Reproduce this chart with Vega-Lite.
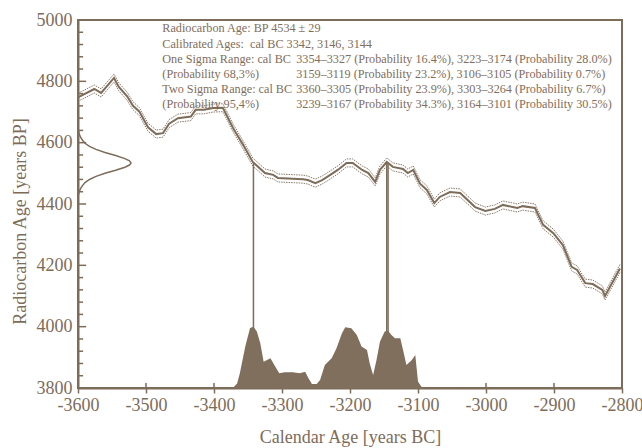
{
  "$schema": "https://vega.github.io/schema/vega-lite/v6.json",
  "width": 544,
  "height": 368,
  "autosize": {"type": "none"},
  "padding": {"left": 78, "top": 20, "right": 20, "bottom": 60},
  "background": "white",
  "config": {
    "view": {"stroke": "#7d6c5a", "strokeWidth": 2},
    "font": "Liberation Serif",
    "axis": {"grid": false, "domainColor": "#7d6c5a", "domainWidth": 2, "tickColor": "#7d6c5a", "tickWidth": 1.5, "labelColor": "#7d6c5a", "labelFontSize": 18, "labelFont": "Liberation Serif", "titleColor": "#7d6c5a", "titleFontSize": 18, "titleFontWeight": "normal", "titleFont": "Liberation Serif", "labelFlush": false, "labelOverlap": false}
  },
  "datasets": {
    "curve": [
      {"cal": -3600, "bp": 4748}, {"cal": -3576, "bp": 4775}, {"cal": -3566, "bp": 4762}, {"cal": -3547, "bp": 4811},
      {"cal": -3540, "bp": 4782}, {"cal": -3528, "bp": 4752}, {"cal": -3519, "bp": 4720}, {"cal": -3510, "bp": 4702},
      {"cal": -3497, "bp": 4650}, {"cal": -3485, "bp": 4628}, {"cal": -3475, "bp": 4631}, {"cal": -3466, "bp": 4662},
      {"cal": -3453, "bp": 4680}, {"cal": -3434, "bp": 4685}, {"cal": -3427, "bp": 4707}, {"cal": -3415, "bp": 4707},
      {"cal": -3401, "bp": 4713}, {"cal": -3387, "bp": 4714}, {"cal": -3372, "bp": 4648}, {"cal": -3357, "bp": 4592},
      {"cal": -3343, "bp": 4537}, {"cal": -3325, "bp": 4501}, {"cal": -3313, "bp": 4495}, {"cal": -3306, "bp": 4485},
      {"cal": -3269, "bp": 4481}, {"cal": -3262, "bp": 4478}, {"cal": -3251, "bp": 4468}, {"cal": -3241, "bp": 4478},
      {"cal": -3229, "bp": 4495}, {"cal": -3218, "bp": 4511}, {"cal": -3205, "bp": 4534}, {"cal": -3196, "bp": 4534},
      {"cal": -3182, "bp": 4511}, {"cal": -3173, "bp": 4501}, {"cal": -3163, "bp": 4472}, {"cal": -3156, "bp": 4511},
      {"cal": -3146, "bp": 4537}, {"cal": -3137, "bp": 4521}, {"cal": -3122, "bp": 4514}, {"cal": -3115, "bp": 4501},
      {"cal": -3107, "bp": 4511}, {"cal": -3097, "bp": 4466}, {"cal": -3087, "bp": 4446}, {"cal": -3076, "bp": 4403},
      {"cal": -3068, "bp": 4423}, {"cal": -3053, "bp": 4439}, {"cal": -3038, "bp": 4436}, {"cal": -3016, "bp": 4390},
      {"cal": -3001, "bp": 4377}, {"cal": -2987, "bp": 4384}, {"cal": -2975, "bp": 4397}, {"cal": -2954, "bp": 4387},
      {"cal": -2946, "bp": 4393}, {"cal": -2928, "bp": 4387}, {"cal": -2916, "bp": 4332}, {"cal": -2901, "bp": 4305},
      {"cal": -2887, "bp": 4266}, {"cal": -2874, "bp": 4195}, {"cal": -2866, "bp": 4185}, {"cal": -2854, "bp": 4142},
      {"cal": -2843, "bp": 4139}, {"cal": -2829, "bp": 4120}, {"cal": -2825, "bp": 4100}, {"cal": -2803, "bp": 4190}
    ],
    "gauss": [
      {"bp": 4430, "cal": -3599.4}, {"bp": 4440, "cal": -3598.2}, {"bp": 4450, "cal": -3596.3}, {"bp": 4460, "cal": -3593.4},
      {"bp": 4470, "cal": -3589.7}, {"bp": 4480, "cal": -3583.1}, {"bp": 4490, "cal": -3573.5}, {"bp": 4500, "cal": -3560.3},
      {"bp": 4510, "cal": -3544.7}, {"bp": 4520, "cal": -3531}, {"bp": 4527, "cal": -3524.3}, {"bp": 4534, "cal": -3522},
      {"bp": 4541, "cal": -3524.3}, {"bp": 4548, "cal": -3531}, {"bp": 4558, "cal": -3544.7}, {"bp": 4568, "cal": -3560.3},
      {"bp": 4578, "cal": -3573.5}, {"bp": 4588, "cal": -3583.1}, {"bp": 4598, "cal": -3589.7}, {"bp": 4608, "cal": -3593.4},
      {"bp": 4618, "cal": -3596.3}, {"bp": 4628, "cal": -3598.2}, {"bp": 4638, "cal": -3599.4}
    ],
    "dist": [
      {"cal": -3600, "bp": 3800}, {"cal": -3495, "bp": 3800}, {"cal": -3485, "bp": 3802}, {"cal": -3475, "bp": 3800},
      {"cal": -3380, "bp": 3800}, {"cal": -3372, "bp": 3801}, {"cal": -3366, "bp": 3815}, {"cal": -3362, "bp": 3848},
      {"cal": -3354, "bp": 3935}, {"cal": -3347, "bp": 3996}, {"cal": -3342, "bp": 4000}, {"cal": -3337, "bp": 3984},
      {"cal": -3332, "bp": 3947}, {"cal": -3327, "bp": 3886}, {"cal": -3322, "bp": 3891}, {"cal": -3317, "bp": 3897},
      {"cal": -3310, "bp": 3870}, {"cal": -3304, "bp": 3848}, {"cal": -3296, "bp": 3851}, {"cal": -3284, "bp": 3851},
      {"cal": -3274, "bp": 3848}, {"cal": -3266, "bp": 3853}, {"cal": -3261, "bp": 3832}, {"cal": -3256, "bp": 3813},
      {"cal": -3249, "bp": 3813}, {"cal": -3244, "bp": 3826}, {"cal": -3237, "bp": 3875}, {"cal": -3227, "bp": 3897},
      {"cal": -3220, "bp": 3929}, {"cal": -3212, "bp": 3978}, {"cal": -3207, "bp": 3998}, {"cal": -3198, "bp": 3995},
      {"cal": -3190, "bp": 3973}, {"cal": -3183, "bp": 3935}, {"cal": -3175, "bp": 3924}, {"cal": -3171, "bp": 3880},
      {"cal": -3166, "bp": 3842}, {"cal": -3161, "bp": 3891}, {"cal": -3156, "bp": 3951}, {"cal": -3149, "bp": 3984},
      {"cal": -3144, "bp": 3987}, {"cal": -3139, "bp": 3973}, {"cal": -3134, "bp": 3962}, {"cal": -3126, "bp": 3962},
      {"cal": -3122, "bp": 3924}, {"cal": -3117, "bp": 3875}, {"cal": -3109, "bp": 3891}, {"cal": -3104, "bp": 3908},
      {"cal": -3100, "bp": 3821}, {"cal": -3095, "bp": 3804}, {"cal": -3088, "bp": 3801}, {"cal": -3070, "bp": 3801},
      {"cal": -3053, "bp": 3803}, {"cal": -3040, "bp": 3802}, {"cal": -3025, "bp": 3800}, {"cal": -2800, "bp": 3800}
    ],
    "calages": [{"cal": -3342}, {"cal": -3146}, {"cal": -3144}],
    "xticks": [{"cal": -3500}, {"cal": -3400}, {"cal": -3300}, {"cal": -3200}, {"cal": -3100}, {"cal": -3000}, {"cal": -2900}],
    "ymajor": [{"bp": 4000}, {"bp": 4200}, {"bp": 4400}, {"bp": 4600}, {"bp": 4800}],
    "yminor": [
      {"bp": 3840}, {"bp": 3880}, {"bp": 3920}, {"bp": 3960}, {"bp": 4040}, {"bp": 4080}, {"bp": 4120}, {"bp": 4160},
      {"bp": 4240}, {"bp": 4280}, {"bp": 4320}, {"bp": 4360}, {"bp": 4440}, {"bp": 4480}, {"bp": 4520}, {"bp": 4560},
      {"bp": 4640}, {"bp": 4680}, {"bp": 4720}, {"bp": 4760}, {"bp": 4840}, {"bp": 4880}, {"bp": 4920}, {"bp": 4960}
    ],
    "texts": [
      {"cal": -3476, "bp": 4960, "t": "Radiocarbon Age: BP 4534 ± 29"},
      {"cal": -3476, "bp": 4910, "t": "Calibrated Ages:"},
      {"cal": -3347, "bp": 4910, "t": "cal BC 3342, 3146, 3144"},
      {"cal": -3476, "bp": 4861, "t": "One Sigma Range: cal BC"},
      {"cal": -3279, "bp": 4861, "t": "3354–3327 (Probability 16.4%), 3223–3174 (Probability 28.0%)"},
      {"cal": -3476, "bp": 4811, "t": "(Probability 68,3%)"},
      {"cal": -3279, "bp": 4811, "t": "3159–3119 (Probability 23.2%), 3106–3105 (Probability 0.7%)"},
      {"cal": -3476, "bp": 4762, "t": "Two Sigma Range: cal BC"},
      {"cal": -3279, "bp": 4762, "t": "3360–3305 (Probability 23.9%), 3303–3264 (Probability 6.7%)"},
      {"cal": -3476, "bp": 4712, "t": "(Probability 95,4%)"},
      {"cal": -3279, "bp": 4712, "t": "3239–3167 (Probability 34.3%), 3164–3101 (Probability 30.5%)"}
    ]
  },
  "layer": [
    {
      "data": {"name": "texts"},
      "mark": {"type": "text", "align": "left", "baseline": "alphabetic", "fontSize": 12.2, "color": "#7f6e5c", "font": "Liberation Serif"},
      "encoding": {
        "x": {"field": "cal", "type": "quantitative", "scale": {"domain": [-3600, -2800], "nice": false, "zero": false},
          "axis": {"title": "Calendar Age [years BC]", "values": [-3600, -3500, -3400, -3300, -3200, -3100, -3000, -2900, -2800], "labelExpr": "'' + datum.value", "tickSize": 5, "labelPadding": 3, "titleY": 49, "titleBaseline": "middle", "labelOverlap": false}},
        "y": {"field": "bp", "type": "quantitative", "scale": {"domain": [3800, 5000], "nice": false, "zero": false},
          "axis": {"title": "Radiocarbon Age [years BP]", "values": [3800, 4000, 4200, 4400, 4600, 4800, 5000],
            "labelExpr": "'' + datum.value",
            "labelOverlap": false, "ticks": false,
            "labelPadding": 6, "titleX": -58, "titleY": 201, "titleBaseline": "middle", "titleAngle": 270}},
        "text": {"field": "t", "type": "nominal"}
      }
    },
    {
      "data": {"name": "ymajor"},
      "mark": {"type": "rule", "color": "#7d6c5a", "strokeWidth": 1.5},
      "encoding": {"y": {"field": "bp", "type": "quantitative"}, "x": {"datum": -3600}, "x2": {"datum": -3588}}
    },
    {
      "data": {"name": "yminor"},
      "mark": {"type": "rule", "color": "#7d6c5a", "strokeWidth": 1.5},
      "encoding": {"y": {"field": "bp", "type": "quantitative"}, "x": {"datum": -3600}, "x2": {"datum": -3592.5}}
    },
    {
      "mark": {"type": "rule", "color": "#7d6c5a", "strokeWidth": 2},
      "encoding": {"y": {"datum": 4534}}
    },
    {
      "mark": {"type": "rule", "color": "#8a7a69", "strokeWidth": 1.2, "strokeDash": [2, 1]},
      "encoding": {"y": {"datum": 4563}}
    },
    {
      "mark": {"type": "rule", "color": "#8a7a69", "strokeWidth": 1.2, "strokeDash": [2, 1]},
      "encoding": {"y": {"datum": 4505}}
    },
    {
      "data": {"name": "calages"},
      "mark": {"type": "rule", "color": "#7d6c5a", "strokeWidth": 1.5},
      "encoding": {"x": {"field": "cal", "type": "quantitative"}, "y": {"datum": 3800}, "y2": {"datum": 4534}}
    },
    {
      "data": {"name": "xticks"},
      "mark": {"type": "rule", "color": "#7d6c5a", "strokeWidth": 1.5},
      "encoding": {"x": {"field": "cal", "type": "quantitative"}, "y": {"datum": 3800}, "y2": {"datum": 3816}}
    },
    {
      "data": {"name": "curve"},
      "mark": {"type": "line", "color": "#8a7a69", "strokeWidth": 1, "strokeDash": [1.5, 1], "yOffset": -4},
      "encoding": {"x": {"field": "cal", "type": "quantitative"}, "y": {"field": "bp", "type": "quantitative"}}
    },
    {
      "data": {"name": "curve"},
      "mark": {"type": "line", "color": "#8a7a69", "strokeWidth": 1, "strokeDash": [1.5, 1], "yOffset": 4},
      "encoding": {"x": {"field": "cal", "type": "quantitative"}, "y": {"field": "bp", "type": "quantitative"}}
    },
    {
      "data": {"name": "curve"},
      "mark": {"type": "line", "color": "#7d6c5a", "strokeWidth": 2},
      "encoding": {"x": {"field": "cal", "type": "quantitative"}, "y": {"field": "bp", "type": "quantitative"}}
    },
    {
      "data": {"name": "gauss"},
      "mark": {"type": "line", "color": "#7d6c5a", "strokeWidth": 1.5},
      "encoding": {"x": {"field": "cal", "type": "quantitative"}, "y": {"field": "bp", "type": "quantitative"}, "order": {"field": "bp", "type": "quantitative"}}
    },
    {
      "data": {"name": "dist"},
      "mark": {"type": "area", "color": "#806f5d", "opacity": 1},
      "encoding": {"x": {"field": "cal", "type": "quantitative"}, "y": {"field": "bp", "type": "quantitative"}, "y2": {"datum": 3800}}
    }
  ]
}
